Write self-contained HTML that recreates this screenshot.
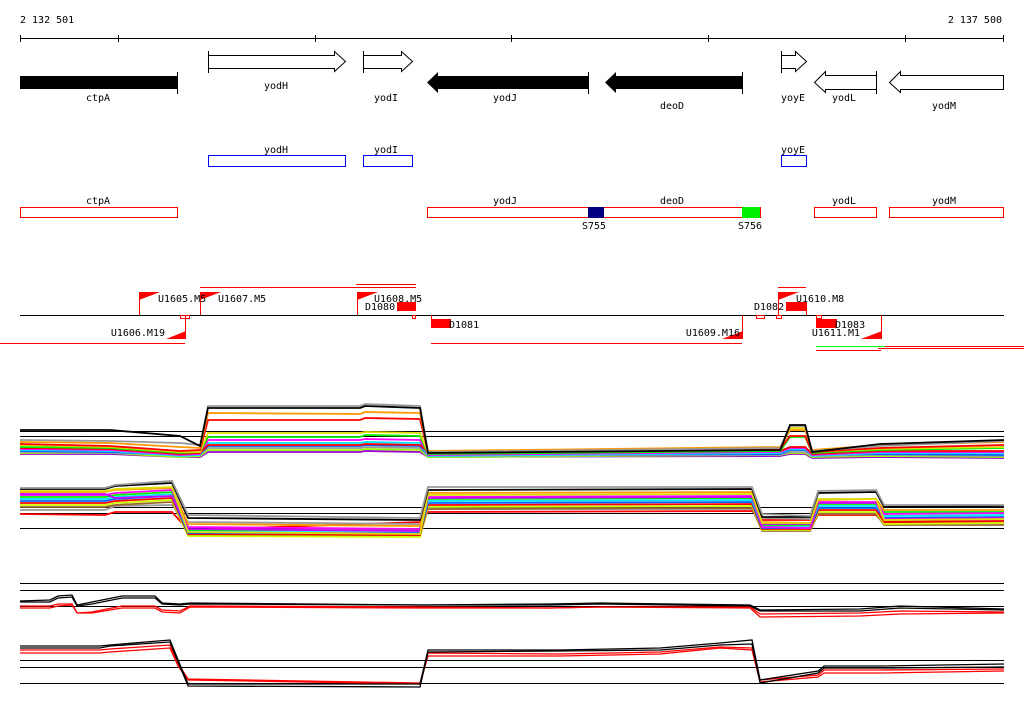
<!DOCTYPE html>
<html><head><meta charset="utf-8">
<style>
html,body{margin:0;padding:0;background:#fff;}
svg{display:block;}
text{font-family:"DejaVu Sans Mono","Liberation Mono",monospace;font-size:10px;fill:#000;}
</style></head>
<body>
<svg id="chart" width="1024" height="714" viewBox="0 0 1024 714">
  <g>
    <text x="20" y="23">2 132 501</text>
    <text x="1002" y="23" text-anchor="end">2 137 500</text>
    <line x1="20" y1="38.5" x2="1004" y2="38.5" stroke="#000"/>
    <g stroke="#000">
      <line x1="20.5" y1="35" x2="20.5" y2="42"/><line x1="118.5" y1="35" x2="118.5" y2="42"/>
      <line x1="315.5" y1="35" x2="315.5" y2="42"/><line x1="511.5" y1="35" x2="511.5" y2="42"/>
      <line x1="708.5" y1="35" x2="708.5" y2="42"/><line x1="905.5" y1="35" x2="905.5" y2="42"/>
      <line x1="1003.5" y1="35" x2="1003.5" y2="42"/>
    </g>
  </g>
  <g>
    <g><rect x="20" y="76" width="157" height="13" fill="#000"/><line x1="177.5" y1="72" x2="177.5" y2="94" stroke="#000"/><text x="98" y="101" text-anchor="middle">ctpA</text></g>
    <g><path d="M208.5,55.5 H334.5 V51.5 L345.5,61.5 L334.5,71.5 V68.5 H208.5 Z" fill="#fff" stroke="#000"/><line x1="208.5" y1="51" x2="208.5" y2="73" stroke="#000"/><text x="276" y="89" text-anchor="middle">yodH</text></g>
    <g><path d="M363.5,55.5 H401.5 V51.5 L412.5,61.5 L401.5,71.5 V68.5 H363.5 Z" fill="#fff" stroke="#000"/><line x1="363.5" y1="51" x2="363.5" y2="73" stroke="#000"/><text x="386" y="101" text-anchor="middle">yodI</text></g>
    <g><path d="M427,82.5 L438,72 V76 H588 V89 H438 V93 Z" fill="#000"/><line x1="588.5" y1="72" x2="588.5" y2="94" stroke="#000"/><text x="505" y="101" text-anchor="middle">yodJ</text></g>
    <g><path d="M605,82.5 L616,72 V76 H742 V89 H616 V93 Z" fill="#000"/><line x1="742.5" y1="72" x2="742.5" y2="94" stroke="#000"/><text x="672" y="109" text-anchor="middle">deoD</text></g>
    <g><path d="M781.5,55.5 H795.5 V51.5 L806.5,61.5 L795.5,71.5 V68.5 H781.5 Z" fill="#fff" stroke="#000"/><line x1="781.5" y1="51" x2="781.5" y2="73" stroke="#000"/><text x="793" y="101" text-anchor="middle">yoyE</text></g>
    <g><path d="M876.5,75.5 H825.5 V71.5 L814.5,82.5 L825.5,92.5 V89.5 H876.5 Z" fill="#fff" stroke="#000"/><line x1="876.5" y1="71" x2="876.5" y2="94" stroke="#000"/><text x="844" y="101" text-anchor="middle">yodL</text></g>
    <g><path d="M1003.5,75.5 H900.5 V71.5 L889.5,82.5 L900.5,92.5 V89.5 H1003.5 Z" fill="#fff" stroke="#000"/><text x="944" y="109" text-anchor="middle">yodM</text></g>
  </g>
  <g fill="#fff" stroke="#0000ff">
    <rect x="208.5" y="155.5" width="137" height="11"/>
    <rect x="363.5" y="155.5" width="49" height="11"/>
    <rect x="781.5" y="155.5" width="25" height="11"/>
  </g>
  <g>
    <text x="276" y="153" text-anchor="middle">yodH</text><text x="386" y="153" text-anchor="middle">yodI</text><text x="793" y="153" text-anchor="middle">yoyE</text>
  </g>
  <g>
    <g fill="#fff" stroke="#ff0000">
      <rect x="20.5" y="207.5" width="157" height="10"/>
      <rect x="427.5" y="207.5" width="333" height="10"/>
      <rect x="814.5" y="207.5" width="62" height="10"/>
      <rect x="889.5" y="207.5" width="114" height="10"/>
    </g>
    <rect x="588" y="207" width="16" height="11" fill="#000080"/>
    <rect x="742" y="207" width="18" height="11" fill="#00ee00"/>
    <text x="98" y="204" text-anchor="middle">ctpA</text><text x="505" y="204" text-anchor="middle">yodJ</text><text x="672" y="204" text-anchor="middle">deoD</text>
    <text x="844" y="204" text-anchor="middle">yodL</text><text x="944" y="204" text-anchor="middle">yodM</text>
    <text x="594" y="229" text-anchor="middle">S755</text><text x="750" y="229" text-anchor="middle">S756</text>
  </g>
  <g>
    <line x1="20" y1="315.5" x2="1004" y2="315.5" stroke="#000"/>
    <g stroke="#ff0000" fill="none">
      <line x1="200" y1="287.5" x2="416" y2="287.5"/><line x1="356" y1="284.5" x2="416" y2="284.5"/>
      <line x1="778" y1="287.5" x2="806" y2="287.5"/>
      <line x1="0" y1="343.5" x2="185" y2="343.5"/><line x1="431" y1="343.5" x2="742" y2="343.5"/>
      <line x1="885" y1="346.5" x2="1024" y2="346.5"/><line x1="878" y1="348.5" x2="1024" y2="348.5"/>
      <line x1="816" y1="350.5" x2="881" y2="350.5"/>
      <rect x="180.5" y="315.5" width="9" height="3"/><rect x="412.5" y="315.5" width="3" height="3"/>
      <rect x="756.5" y="315.5" width="8" height="3"/><rect x="776.5" y="315.5" width="5" height="3"/>
      <rect x="816.5" y="315.5" width="5" height="3"/>
      <line x1="139.5" y1="292" x2="139.5" y2="315"/><line x1="200.5" y1="292" x2="200.5" y2="315"/>
      <line x1="357.5" y1="292" x2="357.5" y2="315"/><line x1="778.5" y1="292" x2="778.5" y2="315"/>
      <line x1="185.5" y1="315" x2="185.5" y2="338"/><line x1="742.5" y1="315" x2="742.5" y2="338"/>
      <line x1="881.5" y1="315" x2="881.5" y2="338"/><line x1="806.5" y1="302" x2="806.5" y2="315"/>
      <line x1="431.5" y1="315" x2="431.5" y2="319"/>
    </g>
    <line x1="816" y1="346.5" x2="885" y2="346.5" stroke="#00ff00"/>
    <g fill="#ff0000">
      <path d="M139,292 H160 L139,300 Z"/>
      <path d="M200,292 H221 L200,300 Z"/>
      <path d="M357,292 H378 L357,300 Z"/>
      <path d="M778,292 H799 L778,300 Z"/>
      <path d="M186,331 V339 H166 Z"/>
      <path d="M743,331 V339 H722 Z"/>
      <path d="M882,331 V339 H861 Z"/>
      <rect x="397" y="302" width="19" height="9"/>
      <rect x="431" y="319" width="20" height="9"/>
      <rect x="786" y="302" width="20" height="9"/>
      <rect x="816" y="319" width="21" height="9"/>
    </g>
    <text x="158" y="302">U1605.M5</text><text x="218" y="302">U1607.M5</text><text x="374" y="302">U1608.M5</text>
    <text x="365" y="310">D1080</text><text x="449" y="328">D1081</text>
    <text x="165" y="336" text-anchor="end">U1606.M19</text><text x="740" y="336" text-anchor="end">U1609.M16</text>
    <text x="754" y="310">D1082</text><text x="796" y="302">U1610.M8</text>
    <text x="835" y="328">D1083</text><text x="860" y="336" text-anchor="end">U1611.M1</text>
  </g>
  <g id="tracks"></g>
</svg>
<script>
const startBp = 2132501;
const endBp = 2137500;
// track 1
const posU = [2132501,2132958,2133314,2133416,2133456,2134229,2134254,2134533,2134574,2136363,2136413,2136490,2136525,2136871,2137500];
const U_black = [30,30,24,14,52,52,54,52,7,10,35,35,8,16,20];
const U_gray = [20,19,17,15,54,54,56,54,8,12,34,34,9,14,19];
const U_orange = [18,17,13,12,47,46,48,47,9,13,30,30,10,15,18];
const U_red = [16,14,9,10,40,40,42,41,8,11,24,24,8,12,15];
const U_yellow = [15,13,8,8,27,27,28,27,7,10,32,32,8,11,13];
const U_green = [13,12,7,8,23,23,25,24,6,9,23,23,7,10,12];
const U_magenta = [11,10,5,6,20,20,21,20,5,8,12,12,5,8,8];
const U_cyan = [10,9,4,5,17,17,18,17,4,7,11,11,4,7,7];
const U_blue = [9,8,5,6,14,14,15,14,5,6,10,10,5,6,5];
const U_brown = [8,7,5,5,12,12,13,12,4,5,8,8,4,5,4];
const U_lime = [7,7,3,4,10,10,11,10,3,5,7,7,3,4,3];
const U_purple = [6,6,3,3,8,8,9,8,3,4,6,6,2,3,2];
const U_red2 = [12,11,6,7,15,15,16,15,8,9,13,13,6,9,9];
// track 2
const posL = [2132501,2132933,2132984,2133273,2133355,2134533,2134574,2136220,2136271,2136515,2136556,2136850,2136891,2137500];
const L_gray = [57,57,60,64,30,27,58,58,31,29,54,55,40,40];
const L_black = [56,56,59,62,27,25,55,56,28,28,52,53,38,39];
const L_orange = [53,53,55,57,21,19,52,53,23,22,45,46,35,35];
const L_magenta = [50,50,52,55,18,16,48,49,18,17,43,43,31,32];
const L_green = [48,48,50,53,15,15,46,47,20,20,41,41,33,33];
const L_cyan = [46,46,48,51,14,14,44,45,19,19,39,39,29,30];
const L_blue = [44,44,46,49,12,12,42,43,17,17,37,37,27,28];
const L_yellow = [54,54,56,58,13,11,50,51,22,22,46,46,25,26];
const L_red = [42,42,44,47,11,10,40,41,16,16,35,35,23,24];
const L_lime = [40,40,42,45,9,8,38,39,15,15,33,33,21,22];
const L_brown = [38,38,40,43,10,9,36,37,14,14,31,31,20,20];
const L_redLow = [31,30,33,33,15,23,33,34,25,25,30,30,22,22];
const L_grayLow = [35,35,39,40,23,21,36,36,27,26,32,32,24,24];
const L_magenta2 = [51,51,47,49,16,14,47,48,21,21,42,42,26,27];
// track 3
const pos3 = [2132501,2132653,2132694,2132765,2132791,2132867,2133019,2133187,2133223,2133314,2133365,2134533,2135194,2135448,2136210,2136261,2136769,2136972,2137500];
const T3_black1 = [19,20,24,25,15,18,24,24,17,16,17,15,16,17,15,10,11,14,11];
const T3_black2 = [18,18,22,23,14,16,22,22,16,15,16,15,15,16,14,9,9,12,10];
const T3_red1 = [14,14,16,16,7,8,14,14,10,9,14,13,12,13,13,6,7,9,8];
const T3_red2 = [12,12,14,15,7,7,12,12,8,7,13,12,12,13,12,3,4,6,7];
// track 4
const pos4 = [2132501,2132907,2132958,2133263,2133304,2133355,2134533,2134574,2135245,2135753,2136058,2136220,2136261,2136556,2136586,2136871,2137500];
const T4_black1 = [54,54,55,60,40,16,16,50,50,52,57,60,20,29,34,34,36];
const T4_black2 = [52,52,54,58,38,14,13,48,49,50,55,56,17,27,32,32,33];
const T4_red1 = [50,50,51,55,36,21,17,47,46,48,53,52,20,25,30,30,31];
const T4_red2 = [47,47,48,52,34,20,16,44,44,46,52,50,18,23,27,27,29];
const refU = [29, 24];
const refL = [38, 32, 17];
const ref3 = [37, 30, 14];
const ref4 = [40, 33, 17];

const NS = 'http://www.w3.org/2000/svg';
const g = document.getElementById('tracks');
function xScale(bp){ return 20 + (bp - startBp) / (endBp - startBp) * 984; }
function mkY(base){ return function(v){ return base - v; }; }
const yU = mkY(460), yL = mkY(545), y3 = mkY(620), y4 = mkY(700);

function drawRef(levels, ys, name){
  levels.forEach(function(v){
    const l = document.createElementNS(NS,'line');
    l.setAttribute('x1',20); l.setAttribute('x2',1004);
    l.setAttribute('y1',Math.round(ys(v))+0.5); l.setAttribute('y2',Math.round(ys(v))+0.5);
    l.setAttribute('stroke','#000');
    
    
    g.appendChild(l);
  });
}
function drawSeries(pos, vals, ys, color, name, w){
  const p = document.createElementNS(NS,'polyline');
  p.setAttribute('points', vals.map(function(v,i){ return xScale(pos[i]).toFixed(1)+','+ys(v).toFixed(1); }).join(' '));
  p.setAttribute('fill','none'); p.setAttribute('stroke',color); p.setAttribute('stroke-width', w||1.3);
  
  
  g.appendChild(p);
}
drawRef(refU, yU, 'track1-reference-line');
drawRef(refL, yL, 'track2-reference-line');
drawRef(ref3, y3, 'track3-reference-line');
drawRef(ref4, y4, 'track4-reference-line');

[[U_purple,'#9900cc'],[U_lime,'#99ff00'],[U_brown,'#999999'],[U_blue,'#0066ff'],[U_cyan,'#00e5ff'],[U_magenta,'#ff00ff'],[U_red2,'#ff0000'],[U_green,'#00ee00'],[U_yellow,'#dddd00'],[U_red,'#ff0000'],[U_orange,'#ff9900'],[U_gray,'#999999'],[U_black,'#000000']].forEach(function(s){
  drawSeries(posU, s[0], yU, s[1], 'track1-series', 1.8);
});
[[L_redLow,'#ff0000'],[L_grayLow,'#999999'],[L_brown,'#996633'],[L_lime,'#ccff00'],[L_red,'#ff0000'],[L_blue,'#0066ff'],[L_cyan,'#00e5ff'],[L_green,'#00ee00'],[L_magenta,'#ff00ff'],[L_magenta2,'#cc00ff'],[L_orange,'#ff9900'],[L_yellow,'#dddd00'],[L_black,'#000000'],[L_gray,'#999999']].forEach(function(s){
  drawSeries(posL, s[0], yL, s[1], 'track2-series', 1.8);
});
[[T3_red2,'#ff0000'],[T3_red1,'#ff0000'],[T3_black2,'#000000'],[T3_black1,'#000000']].forEach(function(s){
  drawSeries(pos3, s[0], y3, s[1], 'track3-series', 1.3);
});
[[T4_red2,'#ff0000'],[T4_red1,'#ff0000'],[T4_black2,'#000000'],[T4_black1,'#000000']].forEach(function(s){
  drawSeries(pos4, s[0], y4, s[1], 'track4-series', 1.3);
});
</script>
</body></html>
